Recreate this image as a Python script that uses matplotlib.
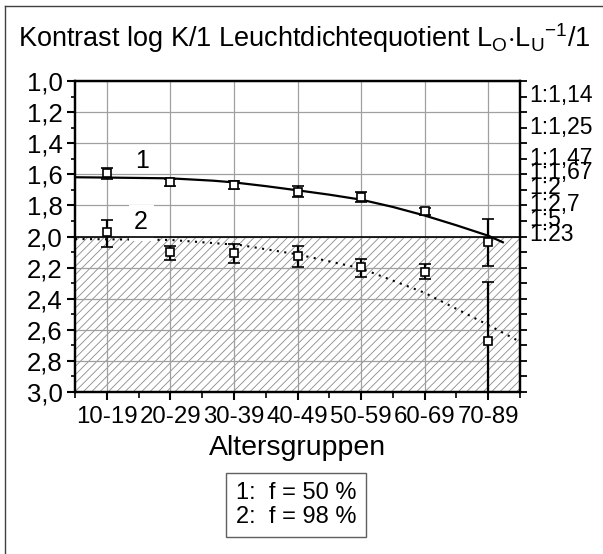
import matplotlib
matplotlib.use("Agg")
import matplotlib.pyplot as plt
from matplotlib.lines import Line2D
from matplotlib.patches import Rectangle

plt.rcParams['font.family'] = ['Liberation Sans', 'DejaVu Sans']
plt.rcParams['mathtext.fontset'] = 'custom'
plt.rcParams['mathtext.rm'] = 'Liberation Sans'
plt.rcParams['hatch.color'] = '#8a8a8a'
plt.rcParams['hatch.linewidth'] = 0.6

# age groups on the x axis
groups = ['10-19', '20-29', '30-39', '40-49', '50-59', '60-69', '70-89']

# curve 1: f = 50 %  (mean, upper and lower end of error bar)
k50 = [1.594, 1.652, 1.669, 1.713, 1.747, 1.836, 2.037]
k50_top = [1.561, 1.630, 1.641, 1.678, 1.717, 1.815, 1.888]
k50_bot = [1.630, 1.675, 1.697, 1.744, 1.778, 1.862, 2.190]

# curve 2: f = 98 %
k98 = [1.973, 2.102, 2.108, 2.125, 2.198, 2.226, 2.670]
k98_top = [1.894, 2.061, 2.050, 2.061, 2.142, 2.179, 2.294]
k98_bot = [2.066, 2.151, 2.172, 2.194, 2.258, 2.273, 3.100]

# fitted curves
fit50_x = [0.5, 1.0, 2.0, 2.67, 3.0, 3.5, 4.0, 4.5, 5.0, 5.5, 6.0, 6.5, 7.0, 7.23]
fit50_y = [1.619, 1.621, 1.626, 1.641, 1.652, 1.676, 1.703, 1.731, 1.763, 1.81, 1.865, 1.928, 1.995, 2.037]
fit98_x = [0.5, 2.0, 3.1, 4.0, 5.0, 6.0, 7.0, 7.5]
fit98_y = [2.016, 2.022, 2.055, 2.115, 2.205, 2.362, 2.569, 2.677]

# luminance ratio labels on the right side
ratio_labels = ['1:1,14', '1:1,25', '1:1,47', '1:1,67', '1:2', '1:2,7', '1:5', '1:23']
ratio_pos = [1.075, 1.283, 1.482, 1.572, 1.669, 1.776, 1.873, 1.973]

xs = list(range(1, len(groups) + 1))

fig = plt.figure(figsize=(6.03, 5.54), dpi=100)
ax = fig.add_axes([0.1244, 0.2924, 0.738, 0.5614])

# hatched area below 2.0
ax.axhspan(2.0, 3.0, facecolor='white', edgecolor='#8a8a8a', hatch='////', linewidth=0, zorder=1)
ax.grid(True, color='#a0a0a0', linewidth=0.9)

ax.plot(fit50_x, fit50_y, color='black', linewidth=1.6, zorder=3)
ax.plot(fit98_x, fit98_y, color='black', linewidth=1.5, linestyle=(0, (1, 2.6)), zorder=3)

for y, top, bot in [(k50, k50_top, k50_bot), (k98, k98_top, k98_bot)]:
    err = [[a - b for a, b in zip(y, top)], [b - a for a, b in zip(y, bot)]]
    ax.errorbar(xs, y, yerr=err, fmt='s', color='black', markerfacecolor='white',
                markersize=6, markeredgewidth=1.2, elinewidth=1.6, capsize=4.3,
                capthick=1.6, zorder=5)

# white background behind label 2
ax.add_patch(Rectangle((1.35, 1.80), 0.40, 0.20, facecolor='white', edgecolor='none', zorder=3.5))
ax.add_patch(Rectangle((1.35, 2.00), 0.40, 0.03, facecolor='white', edgecolor='none',
                       hatch='////', linewidth=0, zorder=3.5))
ax.axhline(2.0, color='black', linewidth=1.2, zorder=4)

ax.text(1.55, 1.515, '1', fontsize=18, ha='center', va='center', zorder=6)
ax.text(1.54, 1.905, '2', fontsize=18, ha='center', va='center', zorder=6)

ax.set_xlim(0.5, 7.5)
ax.set_ylim(3.0, 1.0)
ax.set_xticks(xs)
ax.set_xticklabels(groups)
ax.set_xticks([x + 0.5 for x in range(0, 8)], minor=True)
yt = [1.0 + 0.2 * i for i in range(11)]
ax.set_yticks(yt)
ax.set_yticklabels([('%.1f' % v).replace('.', ',') for v in yt])
ax.set_yticks([1.1 + 0.2 * i for i in range(10)], minor=True)
ax.tick_params(axis='both', which='major', labelsize=18.5, width=1.5, length=6, direction='out')
ax.tick_params(axis='x', which='major', labelsize=17.3, pad=4)
ax.tick_params(axis='y', which='major', pad=3)
ax.tick_params(axis='both', which='minor', width=1.2, length=4, direction='out')
ax.tick_params(axis='y', which='minor', length=3)
for s in ax.spines.values():
    s.set_linewidth(1.6)

ax2 = ax.twinx()
ax2.set_ylim(3.0, 1.0)
ax2.set_yticks(ratio_pos)
ax2.set_yticklabels(ratio_labels)
ax2.set_yticks([1.0 + 0.1 * i for i in range(21)], minor=True)
ax2.tick_params(axis='y', which='major', length=0, pad=7, labelsize=16.5)
ax2.tick_params(axis='y', which='minor', length=5, width=1.3, direction='out')
for s in ax2.spines.values():
    s.set_linewidth(1.6)

ax.set_xlabel('Altersgruppen', fontsize=20.5, labelpad=5)

fig.text(18 / 603, 1 - 47 / 554,
         r'Kontrast log K/1 Leuchtdichtequotient L$_\mathrm{O}$$\cdot$L$_\mathrm{U}$$^{-1}$/1',
         fontsize=19.5, ha='left', va='baseline')

fig.text(296 / 603, 1 - 505 / 554, '1:  f = 50 %\n2:  f = 98 %', fontsize=17,
         ha='center', va='center', linespacing=1.1,
         bbox=dict(boxstyle='square,pad=0.4', facecolor='white', edgecolor='#606060', linewidth=1))

# outer frame (left and top edge)
fig.add_artist(Line2D([5 / 603, 5 / 603], [0, 1 - 6 / 554], transform=fig.transFigure, color='#404040', linewidth=1))
fig.add_artist(Line2D([5 / 603, 1], [1 - 6 / 554, 1 - 6 / 554], transform=fig.transFigure, color='#404040', linewidth=1))

fig.savefig('out.png', dpi=100)
